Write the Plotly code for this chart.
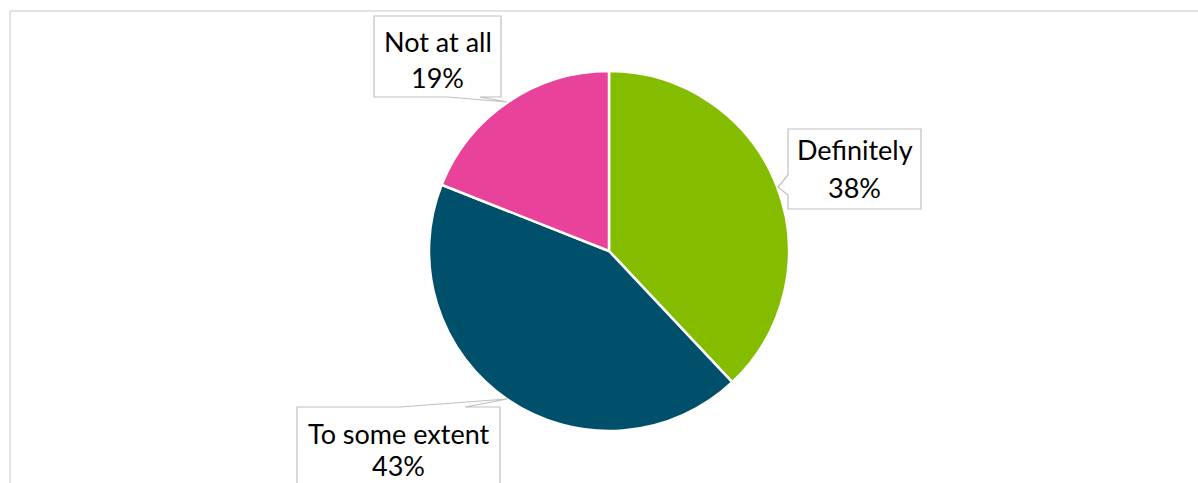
import plotly.graph_objects as go

W, H = 1198, 483

categories = ["Definitely", "To some extent", "Not at all"]
values = [38, 43, 19]
colors = ["#84BD00", "#004F6B", "#E8429A"]

def px(x):
    return x / W

def py(y):
    return 1 - y / H

fig = go.Figure()

cx, cy, r = 609, 251, 180
fig.add_trace(go.Pie(
    labels=categories,
    values=values,
    sort=False,
    direction="clockwise",
    rotation=0,
    marker=dict(colors=colors, line=dict(color="white", width=2.5)),
    textinfo="none",
    hoverinfo="label+percent",
    showlegend=False,
    domain=dict(x=[px(cx - r), px(cx + r)], y=[py(cy + r), py(cy - r)]),
))

# callout boxes (pixel polygons incl. tail)
callouts = {
    "Definitely": dict(poly=[(788, 129), (921, 129), (921, 209), (788, 209), (788, 195), (778, 187), (788, 175)],
                       cx=854.5, lines=(149, 188)),
    "To some extent": dict(poly=[(297, 407), (400, 407), (507, 399), (465, 407), (500, 407), (500, 495), (297, 495)],
                           cx=398.5, lines=(433, 465)),
    "Not at all": dict(poly=[(374, 16), (501, 16), (501, 97), (480, 97), (507, 102), (448, 97), (374, 97)],
                       cx=437.5, lines=(42, 78)),
}

shapes = []
# chart frame
shapes.append(dict(type="line", xref="paper", yref="paper", x0=px(10), x1=px(W + 5), y0=py(11), y1=py(11),
                   line=dict(color="#d9d9d9", width=1.5)))
shapes.append(dict(type="line", xref="paper", yref="paper", x0=px(10), x1=px(10), y0=py(11), y1=py(H + 5),
                   line=dict(color="#d9d9d9", width=1.5)))

annotations = []
total = sum(values)
for cat, val in zip(categories, values):
    c = callouts[cat]
    path = "M " + " L ".join(f"{px(x):.6f},{py(y):.6f}" for x, y in c["poly"]) + " Z"
    shapes.append(dict(type="path", xref="paper", yref="paper", path=path,
                       fillcolor="white", line=dict(color="#bfbfbf", width=1.2)))
    pct = f"{round(val / total * 100)}%"
    for txt, yy in zip((cat, pct), c["lines"]):
        annotations.append(dict(x=px(c["cx"]), y=py(yy), xref="paper", yref="paper",
                                text=txt, showarrow=False, xanchor="center", yanchor="middle",
                                font=dict(family="Lato", size=27, color="#000000")))

fig.update_layout(
    width=W, height=H,
    margin=dict(l=0, r=0, t=0, b=0),
    paper_bgcolor="white",
    plot_bgcolor="white",
    shapes=shapes,
    annotations=annotations,
)

fig.write_html("out.html",
               config={"displayModeBar": False},
               post_script="document.body.style.margin='0';document.body.style.overflow='hidden';")
